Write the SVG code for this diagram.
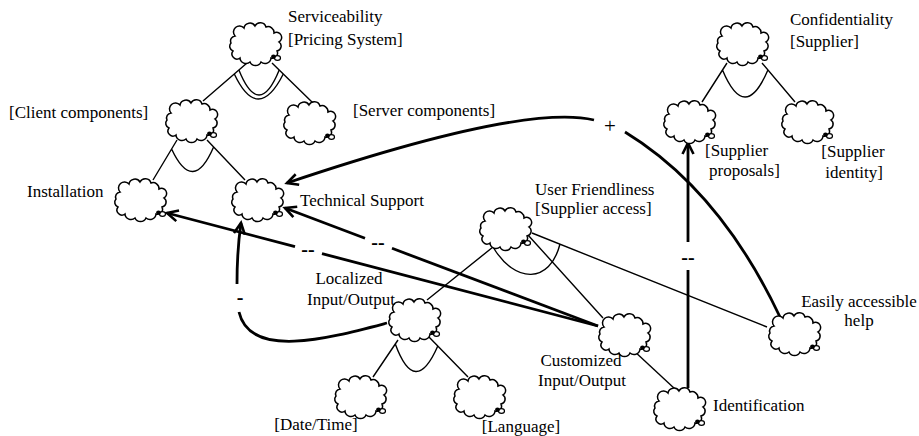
<svg xmlns="http://www.w3.org/2000/svg" width="919" height="436" viewBox="0 0 919 436">
<style>
.cl{fill:#fff;stroke:#000;stroke-width:1.5}
.t{font-family:"Liberation Serif","Times New Roman",serif;font-size:17px;fill:#000}
.m{text-anchor:middle}
.lb{font-family:"Liberation Serif","Times New Roman",serif;font-size:20px;fill:#000;text-anchor:middle;font-weight:bold}
.thin{fill:none;stroke:#000;stroke-width:1.4}
.thick{fill:none;stroke:#000;stroke-width:2.8}
.arr{marker-end:url(#ah)}
</style>
<defs>
<g id="cloud">
<path class="cl" d="M6,13 A6,6 0 0 1 15,5 A6,6 0 0 1 26,3 A6,6 0 0 1 37,4 A6,6 0 0 1 45,10 A5,5 0 0 1 50,19 A5,5 0 0 1 48,28 A5,5 0 0 1 42,35 A6,6 0 0 1 32,39 A6,6 0 0 1 21,39 A6,6 0 0 1 11,35 A5,5 0 0 1 4,28 A5,5 0 0 1 2,20 A5,5 0 0 1 6,13 Z"/>
<ellipse cx="48.5" cy="35" rx="3" ry="2.3" fill="#fff" stroke="#000" stroke-width="1.2"/>
<ellipse cx="44.5" cy="33.5" rx="2.4" ry="2.1" fill="#000"/>
</g>
<marker id="ah" markerUnits="userSpaceOnUse" markerWidth="14" markerHeight="14" refX="12" refY="6" orient="auto" overflow="visible">
<path d="M1,0.5 L12,6 L1,11.5" fill="none" stroke="#000" stroke-width="2.6"/>
</marker>
</defs>
<rect width="919" height="436" fill="#fff"/>
<g id="connectors">
<path class="thin" d="M247,63 L203,101 M272,63 L313,103"/>
<path class="thin" d="M234.3,74 Q258,124 283.3,74 M238.9,70 Q259,120 279.2,70"/>
<path class="thin" d="M177,140 L153,180 M207,140 L245,180 M171.6,149 Q193,195 213.6,147"/>
<path class="thin" d="M727,63 L702,102 M762,63 L795,102 M722.5,70 Q745,124 767.9,70"/>
<path class="thin" d="M493,247 L427,300 M528,235 L603,318 M532,233 L767,327 M493,247 C515,284 550,284 560,244"/>
<path class="thin" d="M398,340 L373,377 M428,336 L468,377 M395.3,344 Q415,398 437.8,346"/>
<path class="thin" d="M633,350 L675,389"/>
<path class="thick" d="M780,317 Q720,190 625,132"/>
<path class="thick arr" d="M594,120 C560,112 480,118 287,183"/>
<path class="thick" d="M598,326 L322,253.6"/>
<path class="thick arr" d="M295,246.6 L167,213"/>
<path class="thick" d="M598,326 L392,248.3"/>
<path class="thick arr" d="M365,238.2 L285,208"/>
<path class="thick" d="M688,388 L688,270"/>
<path class="thick arr" d="M688,242 L688,143"/>
<path class="thick" d="M387,323 C330,338 250,360 239,312"/>
<path class="thick arr" d="M237,284 Q237,250 241,223"/>
<text class="t m" x="610" y="133" style="font-size:21px">+</text>
<text class="lb" x="308" y="256">--</text>
<text class="lb" x="378" y="249">--</text>
<text class="lb" x="688" y="264">--</text>
<text class="lb" x="240" y="304">-</text>
</g>
<g id="serviceability"><use href="#cloud" transform="translate(229,23)"/><text class="t" x="288" y="22">Serviceability</text><text class="t" x="288" y="45">[Pricing System]</text></g>
<g id="client"><use href="#cloud" transform="translate(165,100)"/><text class="t" x="9" y="118">[Client components]</text></g>
<g id="server"><use href="#cloud" transform="translate(283,102)"/><text class="t" x="353" y="116">[Server components]</text></g>
<g id="installation"><use href="#cloud" transform="translate(114,179)"/><text class="t" x="27" y="197">Installation</text></g>
<g id="techsupport"><use href="#cloud" transform="translate(231,179)"/><text class="t" x="300" y="206">Technical Support</text></g>
<g id="confidentiality"><use href="#cloud" transform="translate(716,23)"/><text class="t" x="790" y="25">Confidentiality</text><text class="t" x="790" y="47">[Supplier]</text></g>
<g id="supplierproposals"><use href="#cloud" transform="translate(663,101)"/><text class="t" x="705" y="156">[Supplier</text><text class="t" x="709" y="176">proposals]</text></g>
<g id="supplieridentity"><use href="#cloud" transform="translate(781,101)"/><text class="t m" x="853" y="157">[Supplier</text><text class="t m" x="854" y="178">identity]</text></g>
<g id="userfriendliness"><use href="#cloud" transform="translate(479,208)"/><text class="t" x="535" y="195">User Friendliness</text><text class="t" x="535" y="214">[Supplier access]</text></g>
<g id="customized"><use href="#cloud" transform="translate(598,314)"/><text class="t m" x="581" y="366">Customized</text><text class="t m" x="582" y="386">Input/Output</text></g>
<g id="help"><use href="#cloud" transform="translate(768,313)"/><text class="t m" x="859" y="307">Easily accessible</text><text class="t m" x="859" y="326">help</text></g>
<g id="identification"><use href="#cloud" transform="translate(653,388)"/><text class="t" x="713" y="411">Identification</text></g>
<g id="localized"><use href="#cloud" transform="translate(388,299)"/><text class="t m" x="349" y="284">Localized</text><text class="t m" x="351" y="305">Input/Output</text></g>
<g id="datetime"><use href="#cloud" transform="translate(334,376)"/><text class="t m" x="316" y="430">[Date/Time]</text></g>
<g id="language"><use href="#cloud" transform="translate(453,376)"/><text class="t m" x="521" y="432">[Language]</text></g>
</svg>
